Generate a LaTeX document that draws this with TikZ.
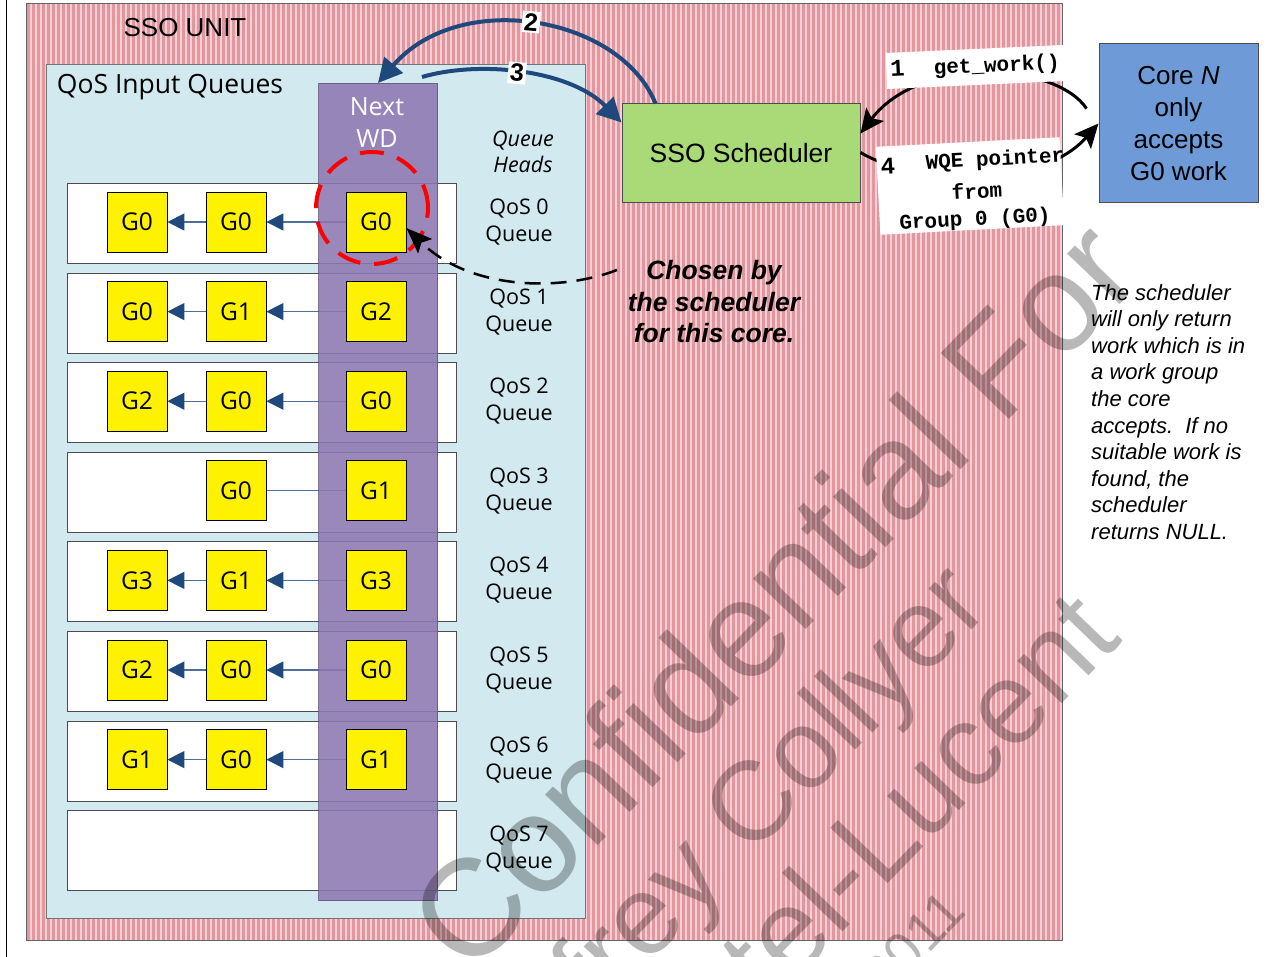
\documentclass[tikz,border=0pt]{standalone}
\usepackage{fontspec}
\setmainfont{Liberation Sans}
\newfontfamily\ptsans{Open Sans}
\newfontfamily\cmono{Liberation Mono}
\usetikzlibrary{arrows.meta}
\pgfdeclarelayer{back}
\pgfdeclarelayer{lines}
\pgfdeclarelayer{mid}
\pgfsetlayers{back,lines,mid,main}
\newcommand\fsz[2]{\fontsize{#1}{#2}\selectfont}
\definecolor{pinkL}{RGB}{252,205,213}
\definecolor{pinkD}{RGB}{222,152,158}
\definecolor{qblue}{RGB}{210,233,239}
\definecolor{purp}{RGB}{142,120,178}
\definecolor{navy}{RGB}{31,73,125}
\definecolor{qline}{RGB}{80,110,155}
\definecolor{sgreen}{RGB}{170,218,120}
\definecolor{cblue}{RGB}{110,155,215}
\tikzset{
 qrow/.style={draw=black!70, fill=white, line width=1pt, minimum width=389pt, minimum height=80pt, inner sep=0, anchor=north west},
 gbox/.style={draw=black, line width=0.8pt, fill=yellow, minimum width=60pt, minimum height=60pt, inner sep=0, font=\ptsans\fsz{24.5}{24.5}},
 qarr/.style={draw=qline, line width=1.2pt, -{Triangle[length=17pt,width=17pt,color=navy]}},
 qplain/.style={draw=qline, line width=1.2pt},
 qlab/.style={align=center, font=\ptsans\fsz{21.5}{27}},
 navyarr/.style={draw=navy, line width=4pt, -{Triangle[length=24pt,width=24pt]}},
 blkarr/.style={draw=black, line width=3pt, -{Stealth[length=24pt,width=22pt,inset=5pt]}},
 numlab/.style={fill=white, inner sep=2pt, font=\bfseries\fsz{25}{25}},
 wm/.style={text=black, text opacity=0.28, inner sep=0, anchor=base east, rotate=46},
}
\begin{document}
\begin{tikzpicture}[x=1pt,y=-1pt]
\useasboundingbox (0,0) rectangle (1278,957);
\begin{pgfonlayer}{back}
\fill[white] (0,0) rectangle (1278,957);
\draw[line width=1pt] (6,0) -- (6,957);
\node[fill=pinkL, minimum width=1036pt, minimum height=936pt, inner sep=0, anchor=north west] (unit) at (26,4) {};
\begin{scope}
\clip (unit.north west) rectangle (unit.south east);
\foreach \x in {26,31,...,1062} \fill[pinkD] (\x+1,4) rectangle (\x+3.5,940);
\end{scope}
\draw[draw=black!60, line width=1pt] (unit.north west) rectangle (unit.south east);
\node[font=\fsz{26}{26}] (ssounit) at (185,28) {SSO UNIT};
\node[draw=black!55, line width=1pt, fill=qblue, minimum width=539pt, minimum height=854pt, inner sep=0, anchor=north west] (qin) at (46,64) {};
\node[font=\ptsans\fsz{26.5}{26.5}] (qintitle) at (170,87) {QoS Input Queues};
\foreach \i in {0,...,7}{
 \pgfmathsetmacro{\yt}{183+89.6*\i}
 \node[qrow] (row\i) at (67,\yt) {};
}
\end{pgfonlayer}
\begin{pgfonlayer}{mid}
\node[fill=purp, fill opacity=0.88, draw=purp!70!black, draw opacity=0.8, line width=1pt, minimum width=119pt, minimum height=817pt, inner sep=0, anchor=north west] (col) at (318,83) {};
\end{pgfonlayer}
\foreach \i/\a/\b/\c in {0/G0/G0/G0,1/G0/G1/G2,2/G2/G0/G0,4/G3/G1/G3,5/G2/G0/G0,6/G1/G0/G1}{
 \pgfmathsetmacro{\yc}{222+89.6*\i}
 \node[gbox] (g\i-a) at (137,\yc) {\a};
 \node[gbox] (g\i-b) at (236,\yc) {\b};
 \node[gbox] (g\i-c) at (376,\yc) {\c};
}
\node[gbox] (g3-b) at (236,490.8) {G0};
\node[gbox] (g3-c) at (376,490.8) {G1};
\begin{pgfonlayer}{lines}
\foreach \i in {0,1,2,4,5,6}{
 \draw[qarr] (g\i-c.west) -- (g\i-b.east);
 \draw[qarr] (g\i-b.west) -- (g\i-a.east);
}
\draw[qplain] (g3-c.west) -- (g3-b.east);
\end{pgfonlayer}
\foreach \i in {0,...,7}{
 \pgfmathsetmacro{\yc}{222+89.6*\i}
 \node[qlab] (ql\i) at (519,\yc) {QoS \i\\Queue};
}
\node[align=center, font=\ptsans\itshape\fsz{21.5}{26}] (qheads) at (523,152) {Queue\\Heads};
\node[align=center, text=white, font=\ptsans\fsz{25}{32}] (nextwd) at (377,123) {Next\\WD};
\node[circle, draw=red, line width=4pt, dash pattern=on 24pt off 14pt, minimum size=112pt, inner sep=0] (chosen) at (372,208) {};
\coordinate (cstart) at (617,270);
\draw[line width=2.5pt, dash pattern=on 16pt off 10pt, -{Stealth[length=26pt,width=20pt,inset=5pt]}] (cstart) .. controls (560,292) and (470,290) .. ([yshift=-6pt]g0-c.east);
\node[draw=black!70, line width=1pt, fill=sgreen, minimum width=238pt, minimum height=99pt, inner sep=0, font=\fsz{26.5}{26.5}] (sso) at (741,153.5) {SSO Scheduler};
\node[draw=black!70, line width=1pt, fill=cblue, minimum width=159pt, minimum height=159pt, inner sep=0, align=center, font=\fsz{26}{32}] (core) at (1178.5,123.5) {Core \textit{N}\\only\\accepts\\G0 work};
\draw[navyarr] ([xshift=34pt]sso.north west) .. controls (620,16) and (460,-12) .. (col.north);
\coordinate (a3start) at (422,77);
\draw[navyarr] (a3start) .. controls (480,60) and (570,70) .. ([yshift=31pt]sso.west);
\node[numlab, rotate=-5] (n2) at (531,22) {2};
\node[numlab, rotate=-5] (n3) at (517,73) {3};
\draw[blkarr] ([xshift=-12pt,yshift=15pt]core.west) .. controls (1055,62) and (920,55) .. ([yshift=20pt]sso.east);
\draw[blkarr] ([yshift=1pt]sso.east) .. controls (915,185) and (1040,190) .. (core.west);
\node[fill=white, rotate=2.6, inner sep=4pt, minimum height=36pt, font=\cmono\bfseries] (lab1) at (975,67) {{\fsz{24}{24}1}\hspace{29pt}{\fsz{21}{21}get\_work()}};
\node[fill=white, rotate=3, minimum width=184pt, minimum height=88pt, inner sep=0] (lab4) at (970,186) {};
\node[rotate=3, font=\cmono\bfseries\fsz{24}{24}] (n4) at (888,166) {4};
\node[rotate=3, font=\cmono\bfseries\fsz{21}{21}] (l4a) at (995,160) {WQE pointer};
\node[rotate=3, font=\cmono\bfseries\fsz{21}{21}] (l4b) at (977,191) {from};
\node[rotate=3, font=\cmono\bfseries\fsz{21}{21}] (l4c) at (975,220) {Group 0 (G0)};
\node[align=center, font=\bfseries\itshape\fsz{26.5}{31.5}] (chosentxt) at (714,302) {Chosen by\\the scheduler\\for this core.};
\node[align=left, anchor=north west, inner sep=0, font=\itshape\fsz{22}{26.6}] (note) at (1091,284) {The scheduler\\will only return\\work which is in\\a work group\\the core\\accepts.\ \ If no\\suitable work is\\found, the\\scheduler\\returns NULL.};
\begin{scope}
\clip (0,0) rectangle (1278,957);
\node[wm, font=\fsz{138}{138}] (wm1) at (1146,278) {Confidential For};
\node[wm, font=\fsz{112}{112}] (wm2) at (993,608) {Geoffrey Collyer};
\node[wm, font=\fsz{116}{116}] (wm3) at (1124,640) {Alcatel-Lucent};
\node[wm, font=\fsz{55}{55}] (wm4) at (968,913) {2011};
\end{scope}
\end{tikzpicture}
\end{document}
